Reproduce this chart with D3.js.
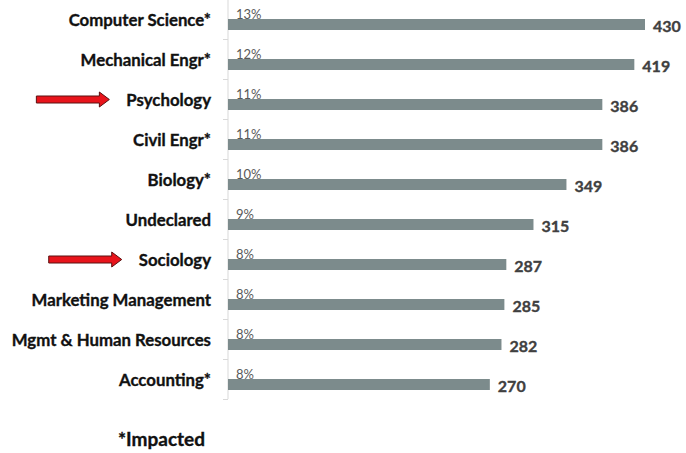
<!DOCTYPE html>
<html><head><meta charset="utf-8">
<script src="https://cdn.jsdelivr.net/npm/d3@7/dist/d3.min.js"></script>
<style>body{margin:0;background:#fff}</style>
</head><body>
<svg id="c" width="686" height="453"></svg>
<script>
const categories = ["Computer Science*","Mechanical Engr*","Psychology","Civil Engr*","Biology*","Undeclared","Sociology","Marketing Management","Mgmt & Human Resources","Accounting*"];
const counts = [430,419,386,386,349,315,287,285,282,270];
const percents = ["13%","12%","11%","11%","10%","9%","8%","8%","8%","8%"];
const highlighted = ["Psychology","Sociology"];
const footnote = "*Impacted";

const svg = d3.select("#c");
const x0 = 228, x1 = 645;
const x = d3.scaleLinear().domain([0, 430]).range([x0, x1]);
const y = d3.scaleBand().domain(categories).range([-1, 399]).paddingInner(0).paddingOuter(0);
const font = "Lato, 'Open Sans', sans-serif";
const mid = c => y(c) + y.bandwidth()/2;

// axis
const ax = svg.append("g");
ax.append("line").attr("x1", x0).attr("x2", x0).attr("y1", 0).attr("y2", 399)
  .attr("stroke", "#d9d9d9").attr("stroke-width", 1);
const bounds = categories.map(c => y(c)).concat([y.range()[1]]);
ax.selectAll("line.t").data(bounds).join("line").attr("class","t")
  .attr("x1", x0 - 5).attr("x2", x0).attr("y1", d => d + 0.5).attr("y2", d => d + 0.5)
  .attr("stroke", "#d9d9d9");

// percent labels (drawn under bars)
svg.selectAll("text.pct").data(categories).join("text").attr("class","pct")
  .attr("x", x0 + 8).attr("y", c => mid(c) + 0.3)
  .attr("font-family", font).attr("font-size", 13).attr("fill", "#595959")
  .text((c,i) => percents[i]);

// bars
const bh = 11;
svg.selectAll("rect.bar").data(categories).join("rect").attr("class","bar")
  .attr("x", x0).attr("y", c => mid(c))
  .attr("width", (c,i) => x(counts[i]) - x0).attr("height", bh)
  .attr("fill", "#7c8b8c");

// value labels
svg.selectAll("text.val").data(categories).join("text").attr("class","val")
  .attr("x", (c,i) => x(counts[i]) + 8).attr("y", c => mid(c) + 12.5)
  .attr("font-family", font).attr("font-weight", "bold").attr("font-size", 16).attr("fill", "#404040")
  .attr("stroke", "#404040").attr("stroke-width", 0.35)
  .text((c,i) => counts[i]);

// category labels
svg.selectAll("text.cat").data(categories).join("text").attr("class","cat")
  .attr("x", 211).attr("y", c => mid(c) + 7)
  .attr("text-anchor", "end")
  .attr("font-family", font).attr("font-weight", "bold").attr("font-size", 16.8).attr("fill", "#111")
  .attr("stroke", "#111").attr("stroke-width", 0.35)
  .text(c => c);

// arrows
svg.selectAll("text.cat").each(function(c){
  if (!highlighted.includes(c)) return;
  const bb = this.getBBox();
  const tip = bb.x - 17, cy = mid(c) + 0.5;
  const len = 73, sh = 3.5, hh = 7.5, hl = 10;
  const p = [[tip - len, cy - sh],[tip - hl, cy - sh],[tip - hl, cy - hh],[tip, cy],[tip - hl, cy + hh],[tip - hl, cy + sh],[tip - len, cy + sh]];
  svg.append("path").attr("d", "M" + p.map(q => q.join(",")).join("L") + "Z")
    .attr("fill", "#e8141b").attr("stroke", "#5a1010").attr("stroke-width", 1);
});

svg.append("text").attr("x", 118).attr("y", 446)
  .attr("font-family", font).attr("font-weight", "bold").attr("font-size", 19).attr("fill", "#111")
  .attr("stroke", "#111").attr("stroke-width", 0.35)
  .text(footnote);
</script>
</body></html>
